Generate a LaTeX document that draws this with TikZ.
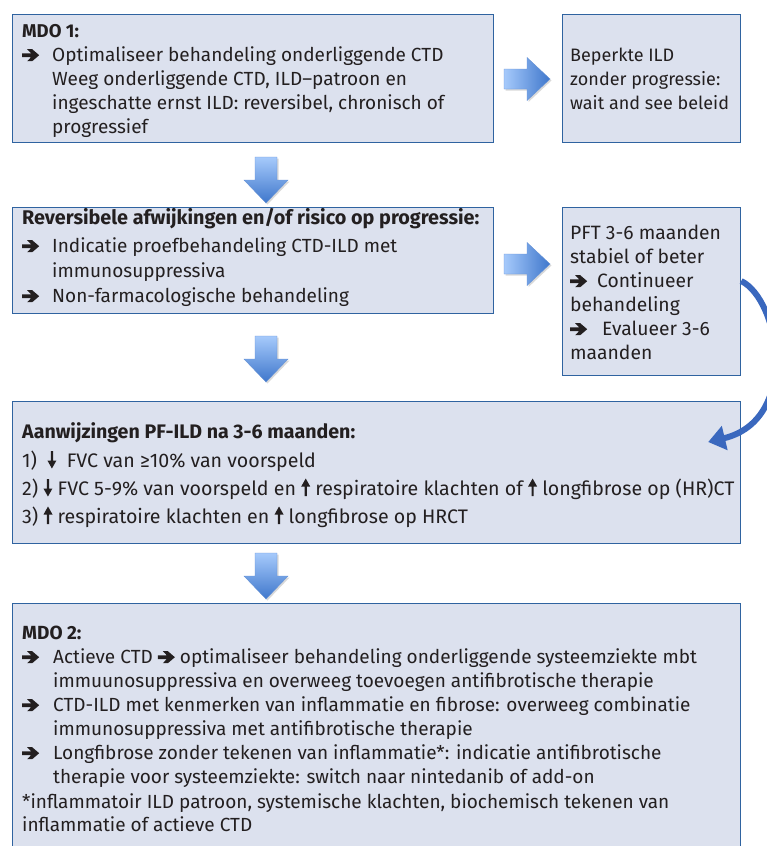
\documentclass[tikz,border=0pt]{standalone}
\usepackage{fontspec}
\setmainfont{Fira Sans}
\usetikzlibrary{arrows.meta,shadows,calc}
\definecolor{boxfill}{HTML}{DCE1EE}
\definecolor{boxline}{HTML}{2F63A0}
\definecolor{txt}{HTML}{231F20}
\definecolor{arrlight}{HTML}{A6CAFB}
\definecolor{arrdark}{HTML}{3F77CC}
\definecolor{curvecol}{HTML}{3A68BE}
\newcommand\ar{\tikz[baseline=0pt,x=1pt,y=1pt]\fill[txt] (0,4)--(9,4)--(5,-0.2)--(10,-0.2)--(17,5.8)--(10,11.8)--(5,11.8)--(9,7.6)--(0,7.6)--cycle;}
\newcommand\dn{\tikz[baseline=0pt,x=1pt,y=1pt]\fill[txt] (-1.1,16)--(1.1,16)--(1.1,6.5)--(4.5,6.5)--(0,-1.5)--(-4.5,6.5)--(-1.1,6.5)--cycle;}
\newcommand\up{\tikz[baseline=0pt,x=1pt,y=1pt]\fill[txt] (-1.1,-1)--(1.1,-1)--(1.1,8.5)--(4.5,8.5)--(0,16.5)--(-4.5,8.5)--(-1.1,8.5)--cycle;}
\newcommand\dnarrow[3]{%
  \coordinate (#1) at (#2,#3);
  \path[blockarrow, top color=arrlight, bottom color=arrdark]
    ($(#1)+(-11,0)$) -- ++(22,0) -- ++(0,23) -- ++(11,0) -- ++(-22,23)
    -- ++(-22,-23) -- ++(11,0) -- cycle;}
\newcommand\rtarrow[3]{%
  \coordinate (#1) at (#2,#3);
  \path[blockarrow, left color=arrlight, right color=arrdark]
    ($(#1)+(0,-10)$) -- ++(23,0) -- ++(0,-11.5) -- ++(23,21.5)
    -- ++(-23,21.5) -- ++(0,-11.5) -- ++(-23,0) -- cycle;}
\begin{document}
\begin{tikzpicture}[x=1pt,y=-1pt,
  box/.style={draw=boxline, line width=1.2pt, fill=boxfill, anchor=north west, inner sep=0pt},
  ln/.style={anchor=base west, inner sep=0pt, text=txt},
  f1/.style={ln, font=\fontsize{19}{24}\selectfont},
  f1b/.style={ln, font=\fontsize{18.5}{24}\selectfont\bfseries},
  f2/.style={ln, font=\fontsize{18}{24}\selectfont},
  f3/.style={ln, font=\fontsize{19}{24}\selectfont},
  f3b/.style={ln, font=\fontsize{19.8}{24}\selectfont\bfseries},
  f4/.style={ln, font=\fontsize{19.3}{24}\selectfont},
  f5/.style={ln, font=\fontsize{19.6}{24}\selectfont},
  f5b/.style={ln, font=\fontsize{19.6}{24}\selectfont\bfseries},
  f6/.style={ln, font=\fontsize{19}{24}\selectfont},
  f6b/.style={ln, font=\fontsize{19}{24}\selectfont\bfseries},
  blockarrow/.style={draw=arrdark!80, line width=0.4pt,
    drop shadow={opacity=0.3, shadow xshift=1.5pt, shadow yshift=-1.5pt}},
  loop/.style={draw=curvecol, line width=6pt, -{Triangle[length=17pt,width=24pt]}}
]
\useasboundingbox (0,0) rectangle (766,846);

% boxes
\node[box, minimum width=481pt, minimum height=128pt] (b1) at (12,14) {};
\node[box, minimum width=178pt, minimum height=128pt] (b2) at (562,14) {};
\node[box, minimum width=481pt, minimum height=106pt] (b3) at (12,207) {};
\node[box, minimum width=178pt, minimum height=168pt] (b4) at (562,207) {};
\node[box, minimum width=728pt, minimum height=142pt] (b5) at (12,401) {};
\node[box, minimum width=728pt, minimum height=260pt] (b6) at (12,603) {};

% block arrows
\rtarrow{ra1}{504}{79}
\rtarrow{ra2}{504}{264}
\dnarrow{da1}{266}{157}
\dnarrow{da2}{266}{336}
\dnarrow{da3}{266}{553}

% curved arrow
\coordinate (cs) at ($(b4.north east)+(0,74)$);
\coordinate (ce) at ($(b5.north east)+(-33,41)$);
\draw[loop] (cs) .. controls (780,300) and (800,420) .. (ce);

% box 1
\node[f1b] (t1) at (22,37) {MDO 1:};
\node[f1] (a1) at (22,61) {\ar};
\node[f1] (l1a) at (52,61) {Optimaliseer behandeling onderliggende CTD};
\node[f1] (l1b) at (52,85) {Weeg onderliggende CTD, ILD–patroon en};
\node[f1] (l1c) at (52,109) {ingeschatte ernst ILD: reversibel, chronisch of};
\node[f1] (l1d) at (52,133) {progressief};

% box 2
\node[f2] (l2a) at (570,61) {Beperkte ILD};
\node[f2] (l2b) at (570,85) {zonder progressie:};
\node[f2] (l2c) at (570,109) {wait and see beleid};

% box 3
\node[f3b] (t3) at (22,224) {Reversibele afwijkingen en/of risico op progressie:};
\node[f3] (a3a) at (22,252) {\ar};
\node[f3] (l3a) at (52,252) {Indicatie proefbehandeling CTD-ILD met};
\node[f3] (l3b) at (52,277) {immunosuppressiva};
\node[f3] (a3b) at (22,302) {\ar};
\node[f3] (l3c) at (52,302) {Non-farmacologische behandeling};

% box 4
\node[f4] (l4a) at (570,239) {PFT 3-6 maanden};
\node[f4] (l4b) at (570,263) {stabiel of beter};
\node[f4] (a4a) at (570,287) {\ar};
\node[f4] (l4c) at (597,287) {Continueer};
\node[f4] (l4d) at (570,311) {behandeling};
\node[f4] (a4b) at (570,335) {\ar};
\node[f4] (l4e) at (602,335) {Evalueer 3-6};
\node[f4] (l4f) at (570,359) {maanden};

% box 5
\node[f5b] (t5) at (22,438) {Aanwijzingen PF-ILD na 3-6 maanden:};
\node[f5] (l5a) at (22,467) {1)\ \ \dn\ \ FVC van ≥10\% van voorspeld};
\node[f5] (l5b) at (22,495) {2)\ \dn\ FVC 5-9\% van voorspeld en \up\ respiratoire klachten of \up\ longfibrose op (HR)CT};
\node[f5] (l5c) at (22,523) {3)\ \up\ respiratoire klachten en \up\ longfibrose op HRCT};

% box 6
\node[f6b] (t6) at (22,639) {MDO 2:};
\node[f6] (a6a) at (22,663) {\ar};
\node[f6] (l6a) at (53,663) {Actieve CTD \ar\ optimaliseer behandeling onderliggende systeemziekte mbt};
\node[f6] (l6b) at (53,687) {immuunosuppressiva en overweeg toevoegen antifibrotische therapie};
\node[f6] (a6b) at (22,711) {\ar};
\node[f6] (l6c) at (53,711) {CTD-ILD met kenmerken van inflammatie en fibrose: overweeg combinatie};
\node[f6] (l6d) at (53,735) {immunosuppressiva met antifibrotische therapie};
\node[f6] (a6c) at (22,759) {\ar};
\node[f6] (l6e) at (53,759) {Longfibrose zonder tekenen van inflammatie*: indicatie antifibrotische};
\node[f6] (l6f) at (53,783) {therapie voor systeemziekte: switch naar nintedanib of add-on};
\node[f6] (l6g) at (22,808) {*inflammatoir ILD patroon, systemische klachten, biochemisch tekenen van};
\node[f6] (l6h) at (22,831) {inflammatie of actieve CTD};
\end{tikzpicture}
\end{document}
